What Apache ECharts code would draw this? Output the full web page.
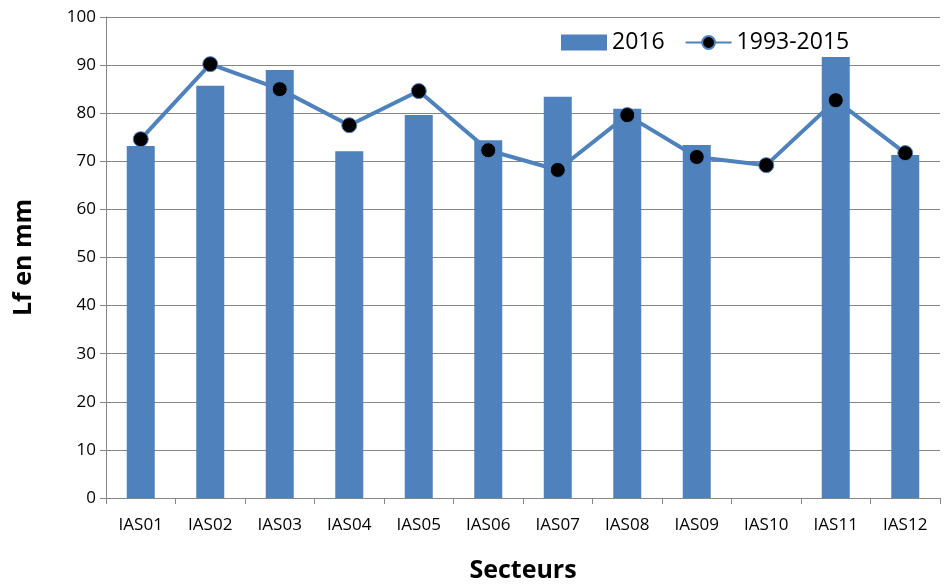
<!DOCTYPE html>
<html>
<head>
<meta charset="utf-8">
<script src="https://cdn.jsdelivr.net/npm/echarts@6/dist/echarts.min.js"></script>
<style>
  html, body { margin: 0; padding: 0; background: #fff; }
  #chart { width: 950px; height: 585px; }
</style>
</head>
<body>
<div id="chart"></div>
<script>
const categories = ['IAS01', 'IAS02', 'IAS03', 'IAS04', 'IAS05', 'IAS06', 'IAS07', 'IAS08', 'IAS09', 'IAS10', 'IAS11', 'IAS12']
const values2016 = [73.2, 85.7, 89.0, 72.1, 79.6, 74.4, 83.4, 80.9, 73.4, null, 91.7, 71.3]
const values19932015 = [74.6, 90.2, 85.0, 77.5, 84.6, 72.3, 68.2, 79.6, 70.9, 69.2, 82.7, 71.7]

const font = '"Open Sans", "DejaVu Sans", sans-serif'
const blue = '#4F81BD'

const chart = echarts.init(document.getElementById('chart'))
chart.setOption({
  animation: false,
  textStyle: { fontFamily: font },
  grid: { left: 106, right: 10, top: 17, bottom: 87, containLabel: false, outerBoundsMode: 'none' },
  legend: {
    top: 26,
    left: 556,
    itemGap: 20,
    itemWidth: 46,
    itemHeight: 16,
    textStyle: { fontSize: 23, color: '#000', fontFamily: font },
    data: [
      { name: '2016', icon: 'rect' },
      { name: '1993-2015' }
    ]
  },
  xAxis: {
    type: 'category',
    data: categories,
    name: 'Secteurs',
    nameLocation: 'middle',
    nameGap: 60,
    nameTextStyle: { fontSize: 25, fontWeight: 'bold', color: '#000', fontFamily: font },
    axisLine: { lineStyle: { color: '#868686' } },
    axisTick: { show: true, alignWithLabel: false, length: 6, lineStyle: { color: '#868686' } },
    axisLabel: { color: '#000', fontSize: 17, margin: 19, interval: 0 }
  },
  yAxis: {
    type: 'value',
    min: 0,
    max: 100,
    interval: 10,
    name: 'Lf en mm',
    nameLocation: 'middle',
    nameGap: 70,
    nameTextStyle: { fontSize: 25, fontWeight: 'bold', color: '#000', fontFamily: font },
    axisLine: { show: true, lineStyle: { color: '#868686' } },
    axisTick: { show: true, length: 6, lineStyle: { color: '#868686' } },
    axisLabel: { color: '#000', fontSize: 17, margin: 10 },
    splitLine: { lineStyle: { color: '#868686', width: 1 } }
  },
  series: [
    {
      name: '2016',
      type: 'bar',
      data: values2016,
      barWidth: 28,
      itemStyle: { color: blue }
    },
    {
      name: '1993-2015',
      type: 'line',
      data: values19932015,
      symbol: 'circle',
      symbolSize: 15,
      lineStyle: { color: blue, width: 4 },
      itemStyle: { color: '#000', borderColor: blue, borderWidth: 1 },
      z: 3
    }
  ]
})
</script>
</body>
</html>
